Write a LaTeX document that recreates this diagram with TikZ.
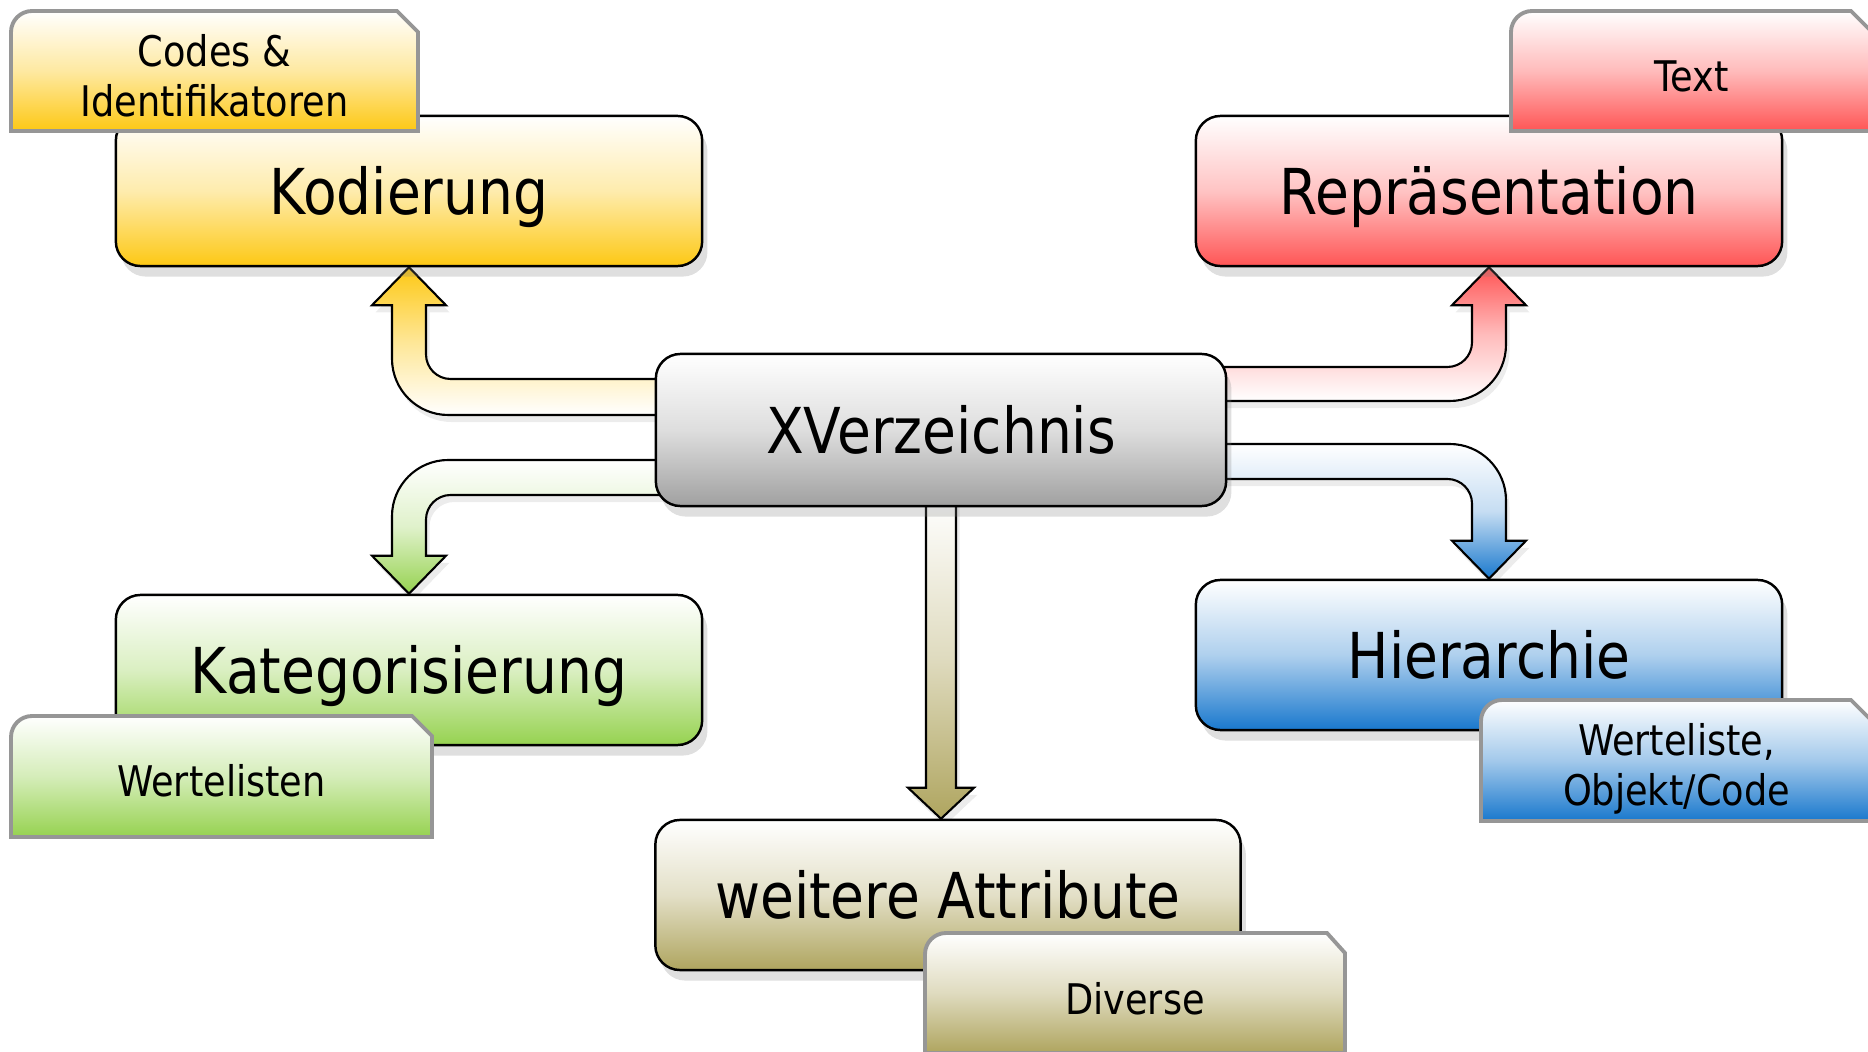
\documentclass[tikz,border=0pt]{standalone}
\usepackage{fontspec}
\setmainfont[FakeStretch=0.87]{DejaVu Sans}
\usetikzlibrary{calc,shadows,backgrounds}

\definecolor{gelb}{RGB}{253,200,20}
\definecolor{rot}{RGB}{255,85,85}
\definecolor{gruen}{RGB}{150,210,80}
\definecolor{blau}{RGB}{25,120,205}
\definecolor{oliv}{RGB}{175,165,95}
\definecolor{grau}{RGB}{160,160,160}
\definecolor{tagrand}{RGB}{150,150,150}

\tikzset{
  box/.style={draw=black,line width=.7pt,rounded corners=7pt,
    minimum width=5.86cm,minimum height=1.5cm,
    font=\fontsize{18}{22}\selectfont,text height=13.5pt,text depth=0pt,
    top color=white,bottom color=#1,middle color=#1!35,
    drop shadow={shadow xshift=1.5pt,shadow yshift=-3pt,opacity=.25}},
  tagbox/.style={draw=tagrand,line width=1.1pt,
    top color=white,bottom color=#1,middle color=#1!40},
  tagtext/.style={align=center,font=\fontsize{12}{14.2}\selectfont},
  pfeil/.style={draw=black,line width=.6pt,
    drop shadow={shadow xshift=1pt,shadow yshift=-2pt,opacity=.15}}
}

\begin{document}
\begin{tikzpicture}[x=0.01cm,y=-0.01cm]

\useasboundingbox (0,0) rectangle (1868,1052);
\clip (0,0) rectangle (1868,1052);

% Kaesten
\node[box=grau,minimum width=5.70cm,minimum height=1.52cm] (xv) at (941,430) {XVerzeichnis};
\node[box=gelb] (kod) at (409,191) {Kodierung};
\node[box=rot] (rep) at (1489,191) {Repräsentation};
\node[box=gruen] (kat) at (409,670) {Kategorisierung};
\node[box=blau] (hie) at (1489,655) {Hierarchie};
\node[box=oliv,minimum width=5.85cm] (wei) at (948,895) {weitere Attribute};

% Pfeile
\begin{pgfonlayer}{background}
\coordinate (gelb-o) at ($(xv.west)+(10,-51)$);
\draw[pfeil,top color=gelb,bottom color=white,middle color=gelb!45]
  (gelb-o) [rounded corners=7pt] -- ($(gelb-o -| kod.south)+(17,0)$)
  [sharp corners] -- ($(kod.south)+(17,38)$) -- ++(20,0) -- (kod.south) -- ++(-37,38) -- ++(20,0)
  [rounded corners=16pt] -- ($(gelb-o -| kod.south)+(-17,36)$)
  [sharp corners] -- ($(gelb-o)+(0,36)$) -- cycle;

\coordinate (rot-o) at ($(xv.east)+(-10,-63)$);
\draw[pfeil,top color=rot,bottom color=white,middle color=rot!40]
  (rot-o) [rounded corners=7pt] -- ($(rot-o -| rep.south)+(-17,0)$)
  [sharp corners] -- ($(rep.south)+(-17,38)$) -- ++(-20,0) -- (rep.south) -- ++(37,38) -- ++(-20,0)
  [rounded corners=16pt] -- ($(rot-o -| rep.south)+(17,34)$)
  [sharp corners] -- ($(rot-o)+(0,34)$) -- cycle;

\coordinate (gruen-o) at ($(xv.west)+(10,65)$);
\draw[pfeil,top color=white,bottom color=gruen,middle color=gruen!30]
  (gruen-o) [rounded corners=7pt] -- ($(gruen-o -| kat.north)+(17,0)$)
  [sharp corners] -- ($(kat.north)+(17,-38)$) -- ++(20,0) -- (kat.north) -- ++(-37,-38) -- ++(20,0)
  [rounded corners=16pt] -- ($(gruen-o -| kat.north)+(-17,-35)$)
  [sharp corners] -- ($(gruen-o)+(0,-35)$) -- cycle;

\coordinate (blau-o) at ($(xv.east)+(-10,49)$);
\draw[pfeil,top color=white,bottom color=blau,middle color=blau!25]
  (blau-o) [rounded corners=7pt] -- ($(blau-o -| hie.north)+(-17,0)$)
  [sharp corners] -- ($(hie.north)+(-17,-38)$) -- ++(-20,0) -- (hie.north) -- ++(37,-38) -- ++(-20,0)
  [rounded corners=16pt] -- ($(blau-o -| hie.north)+(17,-35)$)
  [sharp corners] -- ($(blau-o)+(0,-35)$) -- cycle;

\coordinate (oliv-s) at (xv.south |- wei.north);
\draw[pfeil,top color=white,bottom color=oliv,middle color=oliv!40]
  ($(xv.south)+(-15,-10)$) -- ($(oliv-s)+(-15,-31)$) -- ++(-18,0) -- (oliv-s)
  -- ++(33,-31) -- ++(-18,0) -- ($(xv.south)+(15,-10)$) -- cycle;
\end{pgfonlayer}

% Etiketten
\coordinate (kt-a) at (11,131); \coordinate (kt-b) at (418,11);
\draw[tagbox=gelb] (kt-a) [rounded corners=6pt] -- (kt-a |- kt-b) [sharp corners]
  -- ($(kt-b)+(-21,0)$) -- ($(kt-b)+(0,21)$) -- (kt-b |- kt-a) -- cycle;
\node[tagtext] (kodtag) at ($(kt-a)!.5!(kt-b)+(0,5)$) {Codes \&\\Identifikatoren};

\coordinate (rt-a) at (1511,131); \coordinate (rt-b) at (1872,11);
\draw[tagbox=rot] (rt-a) [rounded corners=6pt] -- (rt-a |- rt-b) [sharp corners]
  -- ($(rt-b)+(-21,0)$) -- ($(rt-b)+(0,21)$) -- (rt-b |- rt-a) -- cycle;
\node[tagtext] (reptag) at ($(rt-a)!.5!(rt-b)+(0,5)$) {Text};

\coordinate (gt-a) at (11,837); \coordinate (gt-b) at (432,716);
\draw[tagbox=gruen] (gt-a) [rounded corners=6pt] -- (gt-a |- gt-b) [sharp corners]
  -- ($(gt-b)+(-20,0)$) -- ($(gt-b)+(0,20)$) -- (gt-b |- gt-a) -- cycle;
\node[tagtext] (kattag) at ($(gt-a)!.5!(gt-b)+(0,4)$) {Wertelisten};

\coordinate (bt-a) at (1481,821); \coordinate (bt-b) at (1872,700);
\draw[tagbox=blau] (bt-a) [rounded corners=6pt] -- (bt-a |- bt-b) [sharp corners]
  -- ($(bt-b)+(-21,0)$) -- ($(bt-b)+(0,21)$) -- (bt-b |- bt-a) -- cycle;
\node[tagtext] (hietag) at ($(bt-a)!.5!(bt-b)+(0,8)$) {Werteliste,\\Objekt/Code};

\coordinate (ot-a) at (925,1053); \coordinate (ot-b) at (1345,933);
\draw[tagbox=oliv] (ot-a) [rounded corners=6pt] -- (ot-a |- ot-b) [sharp corners]
  -- ($(ot-b)+(-18,0)$) -- ($(ot-b)+(0,20)$) -- (ot-b |- ot-a) -- cycle;
\node[tagtext] (weitag) at ($(ot-a)!.5!(ot-b)+(0,6)$) {Diverse};

\end{tikzpicture}
\end{document}
